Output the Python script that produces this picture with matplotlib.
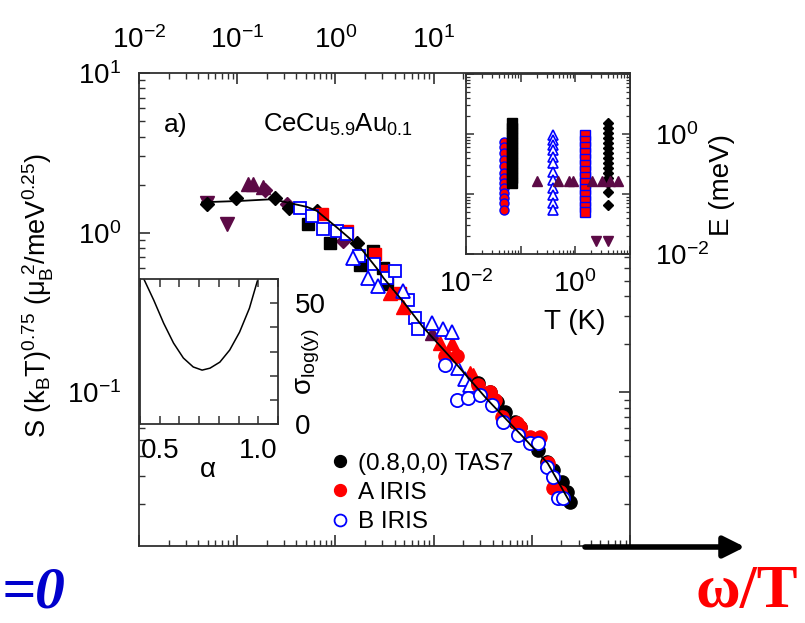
import numpy as np
import matplotlib
matplotlib.use('Agg')
import matplotlib.pyplot as plt
from matplotlib.ticker import FixedLocator, FixedFormatter, LogLocator, NullFormatter, MultipleLocator

plt.rcParams['font.family'] = ['Liberation Sans', 'DejaVu Sans']
plt.rcParams['mathtext.fontset'] = 'custom'
plt.rcParams['mathtext.rm'] = 'Liberation Sans'
plt.rcParams['mathtext.it'] = 'Liberation Sans:italic'
plt.rcParams['mathtext.bf'] = 'Liberation Sans:bold'

W, H = 805, 623
maroon = '#5c0a46'

# ---- main panel: scaled S vs omega/T ----
fit_x = [0.0437, 0.107, 0.229, 0.513, 0.646, 1.05, 1.78, 2.63, 3.09, 4.9, 7.76, 14.8, 34.7, 75.9, 145, 245]
fit_y = [1.55, 1.58, 1.62, 1.45, 1.37, 1.07, 0.81, 0.60, 0.52, 0.37, 0.257, 0.166, 0.091, 0.055, 0.036, 0.0204]

tas7_x = [28.3, 37.5, 44.2, 53.4, 67.5, 75.8, 95.9, 116, 143, 164, 203, 228, 245]
tas7_y = [0.114, 0.100, 0.0866, 0.075, 0.0649, 0.0604, 0.0487, 0.0434, 0.0365, 0.0326, 0.0274, 0.0237, 0.0205]

irisA_x = [13.1, 17.3, 28.3, 37.5, 42.2, 49.7, 70.7, 75.8, 95.9, 121, 146, 164, 194]
irisA_y = [0.170, 0.170, 0.111, 0.100, 0.0891, 0.0698, 0.064, 0.0604, 0.0523, 0.0523, 0.036, 0.0251, 0.0237]

irisB_x = [13.1, 17.3, 22.4, 29.7, 39.3, 50.9, 72.3, 95.9, 116, 143, 164, 185, 208]
irisB_y = [0.148, 0.0891, 0.0917, 0.0958, 0.0829, 0.0649, 0.0539, 0.048, 0.048, 0.034, 0.0294, 0.0218, 0.0218]

redtri_x = [3.60, 4.88, 11.6, 15.4, 23.5, 25.2]
redtri_y = [0.416, 0.340, 0.205, 0.205, 0.133, 0.128]

bluetri_x = [1.51, 2.15, 2.71, 4.88, 9.63, 12.5, 15.4, 17.7, 20.9, 23.5]
bluetri_y = [0.698, 0.523, 0.466, 0.434, 0.270, 0.251, 0.237, 0.141, 0.122, 0.111]

redsq_x = [0.731, 1.31, 2.53, 3.35, 4.55]
redsq_y = [1.31, 1.03, 0.739, 0.579, 0.416]

bluesq_x = [0.436, 0.578, 0.748, 1.04, 1.31, 1.74, 2.47, 3.35, 4.05, 5.48, 6.47, 6.94]
bluesq_y = [1.43, 1.28, 1.06, 1.03, 0.986, 0.718, 0.640, 0.523, 0.579, 0.376, 0.294, 0.251]

blksq_x = [0.526, 0.881, 1.78, 2.41, 3.05, 3.35]
blksq_y = [1.14, 0.866, 0.631, 0.772, 0.604, 0.480]

blkdia_x = [0.049, 0.097, 0.243, 0.337, 0.65, 1.66]
blkdia_y = [1.52, 1.66, 1.66, 1.43, 1.37, 0.866]

mup_x = [0.129, 0.145, 0.183, 9.63]
mup_y = [2.02, 2.02, 1.94, 0.234]
mdia_x = [0.192, 0.321, 1.19]
mdia_y = [1.86, 1.52, 0.89]
mdown_x = [0.049, 0.079]
mdown_y = [1.54, 1.14]

# ---- lower-left inset: sigma vs alpha ----
alpha = [0.42, 0.47, 0.52, 0.57, 0.62, 0.67, 0.715, 0.755, 0.805, 0.855, 0.905, 0.955, 0.995]
sigma = [59.9, 51.2, 41.7, 33.5, 27.3, 23.6, 22.3, 23.1, 25.6, 30.6, 38.0, 47.9, 59.1]

# ---- upper-right inset: E vs T ----
T_circ = 0.05
E_circ = [0.745, 0.600, 0.476, 0.369, 0.293, 0.226, 0.183, 0.151, 0.124, 0.103, 0.0848, 0.070, 0.054]
T_blk = 0.07
E_blk = [1.52, 1.26, 1.04, 0.858, 0.708, 0.585, 0.482, 0.398, 0.329, 0.271, 0.224, 0.185, 0.152]
T_tri = 0.394
E_tri = [0.962, 0.794, 0.656, 0.541, 0.419, 0.325, 0.235, 0.171, 0.124, 0.0962, 0.070, 0.054]
T_sq = 1.52
E_sq = [0.962, 0.764, 0.607, 0.482, 0.383, 0.304, 0.242, 0.192, 0.152, 0.121, 0.0962, 0.0764, 0.0607, 0.050]
T_dia = 4.03
E_dia = [1.52, 1.26, 1.04, 0.858, 0.708, 0.585, 0.482, 0.398, 0.329, 0.271, 0.224, 0.185, 0.152, 0.108, 0.0655]
Tup = [0.201, 0.487, 0.78, 0.92, 2.05, 3.13, 4.38, 6.15]
Eup = 0.165
Tdown = [2.43, 4.03]
Edown = 0.0165


def box(l, t, r, b):
    return [l / W, 1 - b / H, (r - l) / W, (b - t) / H]


def style(a, lw=1.3):
    for s in a.spines.values():
        s.set_linewidth(lw)
        s.set_color('#303030')


fig = plt.figure(figsize=(W / 100, H / 100), dpi=100)

ax = fig.add_axes(box(139, 73, 630, 546))
ax.set_xscale('log')
ax.set_yscale('log')
ax.set_xlim(1e-2, 1e3)
ax.set_ylim(0.0109, 10)
style(ax)

ms = 9.5
ax.plot(mdown_x, mdown_y, 'v', color=maroon, ms=ms, ls='none')
ax.plot(mup_x, mup_y, '^', color=maroon, ms=ms, ls='none')
ax.plot(mdia_x, mdia_y, 'D', color=maroon, ms=7.5, ls='none')
ax.plot(blkdia_x, blkdia_y, 'D', color='k', ms=7.5, ls='none')
ax.plot(blksq_x, blksq_y, 's', color='k', ms=8.5, ls='none')
ax.plot(redsq_x, redsq_y, 's', color='red', ms=8.5, ls='none')
ax.plot(bluesq_x, bluesq_y, 's', mfc='white', mec='blue', mew=1.3, ms=8.5, ls='none')
ax.plot(redtri_x, redtri_y, '^', color='red', ms=ms, ls='none')
ax.plot(bluetri_x, bluetri_y, '^', mfc='white', mec='blue', mew=1.3, ms=ms, ls='none')
h1, = ax.plot(tas7_x, tas7_y, 'o', color='k', ms=ms, ls='none', label='(0.8,0,0) TAS7')
h2, = ax.plot(irisA_x, irisA_y, 'o', color='red', ms=ms, ls='none', label='A IRIS')
h3, = ax.plot(irisB_x, irisB_y, 'o', mfc='white', mec='blue', mew=1.3, ms=ms, ls='none', label='B IRIS')
ax.plot(fit_x, fit_y, '-', color='k', lw=1.3, zorder=5)

ax.xaxis.set_major_locator(FixedLocator([1e-2, 1e-1, 1e0, 1e1, 1e2, 1e3]))
ax.xaxis.set_major_formatter(FixedFormatter(['$10^{-2}$', '$10^{-1}$', '$10^{0}$', '$10^{1}$', '', '']))
ax.xaxis.set_minor_locator(LogLocator(base=10, subs=np.arange(2, 10), numticks=20))
ax.xaxis.set_minor_formatter(NullFormatter())
ax.yaxis.set_major_locator(FixedLocator([1e-1, 1e0, 1e1]))
ax.yaxis.set_major_formatter(FixedFormatter(['$10^{-1}$', '$10^{0}$', '$10^{1}$']))
ax.yaxis.set_minor_locator(LogLocator(base=10, subs=np.arange(2, 10), numticks=20))
ax.yaxis.set_minor_formatter(NullFormatter())
ax.tick_params(which='both', direction='in', top=True, right=True, labeltop=True,
               labelbottom=False, colors='#303030', labelcolor='black')
ax.tick_params(which='major', length=8, width=1.2, labelsize=20)
ax.tick_params(axis='x', which='major', pad=14)
ax.tick_params(axis='y', which='major', pad=13)
ax.tick_params(which='minor', length=4, width=1)

ax.text(0.075, 0.89, 'a)', transform=ax.transAxes, fontsize=19, ha='center', va='center')
ax.text(0.252, 0.875, r'CeCu$_{5.9}$Au$_{0.1}$', transform=ax.transAxes, fontsize=18.5, ha='left', va='baseline')

ax.legend(handles=[h1, h2, h3], loc='upper left', bbox_to_anchor=(0.37, 0.218), frameon=False,
          fontsize=17.5, handlelength=0.8, handletextpad=0.35, labelspacing=0.3, borderaxespad=0,
          markerscale=0.9)

fig.text(38 / W, 1 - 295 / H, r'S (k$_{\rm B}$T)$^{0.75}$ (μ$_{\rm B}^{\ 2}$/meV$^{0.25}$)',
         rotation=90, fontsize=19.5, ha='center', va='center')

# upper-right inset
axi = fig.add_axes(box(466, 74, 630, 254))
axi.set_xscale('log')
axi.set_yscale('log')
axi.set_xlim(0.01, 10.2)
axi.set_ylim(0.01, 10)
style(axi)
axi.plot(np.full(len(E_circ), T_circ), E_circ, 'o', mfc='red', mec='blue', mew=1, ms=6.5, ls='none')
axi.plot(np.full(len(E_blk), T_blk), E_blk, 's', color='k', ms=6.5, ls='none')
axi.plot(np.full(len(E_tri), T_tri), E_tri, '^', mfc='white', mec='blue', mew=1.2, ms=7, ls='none')
axi.plot(np.full(len(E_sq), T_sq), E_sq, 's', mfc='red', mec='blue', mew=1, ms=6.5, ls='none')
axi.plot(np.full(len(E_dia), T_dia), E_dia, 'D', color='k', ms=5.5, ls='none')
axi.plot(Tup, np.full(len(Tup), Eup), '^', color=maroon, ms=7, ls='none')
axi.plot(Tdown, np.full(len(Tdown), Edown), 'v', color=maroon, ms=7, ls='none')
axi.xaxis.set_major_locator(FixedLocator([1e-2, 1e-1, 1e0, 1e1]))
axi.xaxis.set_major_formatter(FixedFormatter(['$10^{-2}$', '', '$10^{0}$', '']))
axi.xaxis.set_minor_locator(LogLocator(base=10, subs=np.arange(2, 10), numticks=20))
axi.xaxis.set_minor_formatter(NullFormatter())
axi.yaxis.set_major_locator(FixedLocator([1e-2, 1e-1, 1e0, 1e1]))
axi.yaxis.set_major_formatter(FixedFormatter(['$10^{-2}$', '', '$10^{0}$', '']))
axi.yaxis.set_minor_locator(LogLocator(base=10, subs=np.arange(2, 10), numticks=20))
axi.yaxis.set_minor_formatter(NullFormatter())
axi.tick_params(which='both', direction='in', top=True, right=True, left=True,
                labelleft=False, labelright=True, colors='#303030', labelcolor='black')
axi.tick_params(which='major', length=6, width=1.1, labelsize=20)
axi.tick_params(axis='x', which='major', pad=12)
axi.tick_params(axis='y', which='major', pad=18)
axi.tick_params(which='minor', length=3, width=0.9)
fig.text(575 / W, 1 - 322 / H, 'T (K)', fontsize=20, ha='center', va='center')
fig.text(722 / W, 1 - 185 / H, 'E (meV)', fontsize=20, rotation=90, ha='center', va='center')

# lower-left inset
axs = fig.add_axes(box(140, 279, 278, 424))
axs.set_xlim(0.4, 1.1)
axs.set_ylim(0, 60)
style(axs)
axs.plot(alpha, sigma, '-', color='k', lw=1.1)
axs.xaxis.set_major_locator(FixedLocator([0.4, 0.5, 0.6, 0.7, 0.8, 0.9, 1.0, 1.1]))
axs.xaxis.set_major_formatter(FixedFormatter(['', '0.5', '', '', '', '', '1.0', '']))
axs.yaxis.set_major_locator(MultipleLocator(10))
axs.yaxis.set_major_formatter(FixedFormatter(['', '0', '', '', '', '', '50', '']))
axs.tick_params(which='both', direction='in', top=True, right=True, left=False,
                labelleft=False, labelright=True, length=6, width=1.1, labelsize=20,
                colors='#303030', labelcolor='black')
axs.tick_params(axis='x', pad=10)
axs.tick_params(axis='y', pad=12)
fig.text(308 / W, 1 - 362 / H, r'σ$_{\rm log(y)}$', fontsize=20, rotation=90, ha='center', va='center')
fig.text(208 / W, 1 - 470 / H, 'α', fontsize=20, ha='center', va='center')

# arrow and big labels
ax.annotate('', xy=(745, H - 547), xytext=(585, H - 547), xycoords='figure pixels',
            textcoords='figure pixels', annotation_clip=False,
            arrowprops=dict(arrowstyle='-|>', lw=4, color='k', mutation_scale=32, shrinkA=0, shrinkB=0))
fig.text(798 / W, 1 - 607 / H, r'ω/T', fontsize=44, color='red', fontweight='bold',
         family='Liberation Serif', ha='right', va='baseline')
fig.text(2 / W, 1 - 607 / H, '=0', fontsize=43, color='#0000cc', fontweight='bold', style='italic',
         family='Liberation Serif', ha='left', va='baseline')

fig.savefig('out.png', dpi=100)
